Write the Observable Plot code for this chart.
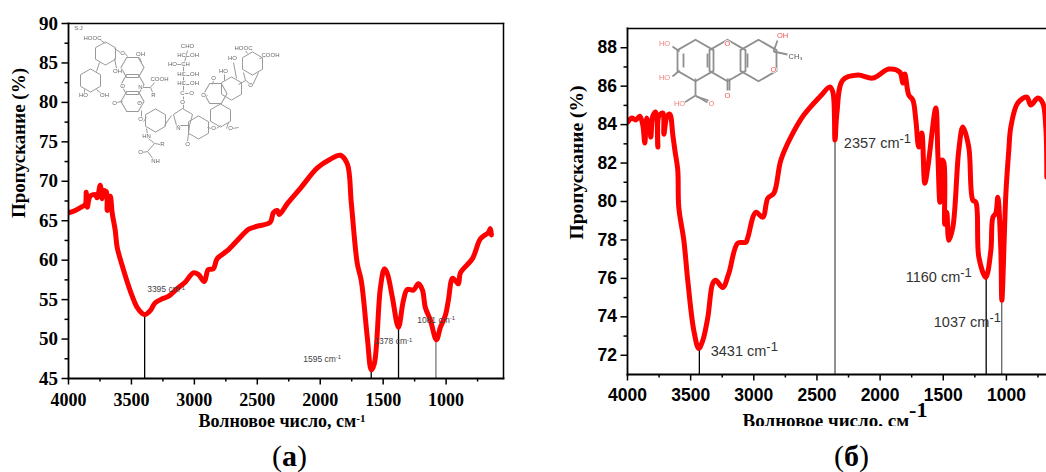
<!DOCTYPE html>
<html><head><meta charset="utf-8">
<script src="https://cdn.jsdelivr.net/npm/d3@7"></script>
<script src="https://cdn.jsdelivr.net/npm/@observablehq/plot@0.6"></script>
<style>
html,body{margin:0;padding:0;background:#fff;overflow:hidden}
#page{position:relative;width:1046px;height:472px;overflow:hidden;background:#fff}
#page svg{position:absolute;background:transparent;max-width:none}
.cap{position:absolute;font-family:"Liberation Serif",serif;font-size:30px;color:#000;white-space:nowrap;line-height:30px}
</style></head><body><div id="page"></div>
<script>
// ---------- Panel (a) ----------
const waveA=[4000,3947,3891,3867,3859,3851,3828,3788,3772,3748,3732,3724,3700,3692,3668,3653,3629,3613,3573,3510,3454,3414,3390,3351,3311,3255,3207,3136,3073,3009,2969,2921,2890,2850,2818,2738,2635,2571,2500,2397,2373,2341,2325,2260,2158,2023,1920,1840,1785,1753,1706,1674,1626,1594,1570,1522,1490,1467,1427,1379,1339,1308,1260,1220,1188,1165,1125,1077,1045,1006,982,950,926,902,886,791,727,664,648,640];
const transA=[66.0,66.3,66.8,67.05,68.6,66.7,68.1,68.3,67.9,69.5,67.8,68.8,68.7,66.3,68.1,66.0,63.8,61.6,59.3,56.15,54.0,53.24,53.1,53.6,54.6,55.1,55.4,56.4,57.2,58.4,58.2,57.3,58.8,58.9,60.2,61.2,62.9,63.9,64.3,64.8,66.0,66.3,65.8,67.2,69.1,71.7,72.8,73.3,72.2,67.2,59.6,57.4,50.2,46.1,46.9,56.5,58.9,58.3,55.3,51.5,54.9,56.3,56.2,57.0,56.2,54.0,52.4,49.9,51.5,53.0,54.9,57.7,57.4,57.0,58.4,60.2,62.7,63.5,64.0,63.2];
const peakWaveA=[3395,1595,1378,1081];
const peakTransA=[53.1,46.1,51.5,49.9];
const peakShadeA=["#000","#000","#000","#777"];
const labelTextA=["3395 cm-1","1595 cm-1","1378 cm-1","1081 cm-1"];
const labelWaveA=[3375,2135,1570,1230];
const labelTransA=[56.3,47.5,49.7,52.4];
const yTicksA=[45,50,55,60,65,70,75,80,85,90];
const yMinorA=[47.5,52.5,57.5,62.5,67.5,72.5,77.5,82.5,87.5];

// ---------- Panel (б) ----------
const waveB=[3998,3966,3934,3903,3879,3863,3847,3823,3815,3800,3776,3760,3752,3720,3712,3689,3665,3641,3625,3602,3594,3554,3523,3475,3436,3404,3364,3325,3301,3246,3198,3127,3063,3047,2984,2929,2889,2841,2786,2707,2604,2471,2398,2374,2357,2342,2295,2176,2058,1931,1844,1820,1804,1773,1741,1717,1694,1670,1646,1622,1559,1543,1527,1511,1496,1488,1472,1456,1424,1377,1345,1298,1266,1242,1218,1163,1123,1107,1084,1068,1044,1036,1004,981,965,910,838,807,751,712,688,680];
const transB=[84.13,84.34,84.24,84.44,83.98,83.04,84.34,83.82,83.35,84.44,84.65,82.83,84.44,84.6,83.5,84.39,84.55,83.45,82.67,81.63,79.7,77.98,75.9,73.29,72.35,72.77,73.97,75.74,75.9,75.53,76.26,77.83,77.88,78.14,79.44,79.18,80.17,80.43,82.15,83.35,84.5,85.49,85.96,85.7,83.2,84.6,86.32,86.58,86.42,86.89,86.73,86.16,86.63,85.54,85.28,84.24,82.83,83.56,80.95,81.79,84.86,82.52,79.96,82.15,82.05,78.82,79.44,77.98,78.66,82.67,83.87,82.83,80.07,79.96,77.1,76.05,77.46,79.18,79.39,80.22,77.46,74.86,80.43,82.67,83.87,85.12,85.43,85.02,85.38,85.12,83.87,81.27];
const peakWaveB=[3431,2357,1160,1037];
const peakTransB=[72.35,83.2,76.05,74.86];
const peakShadeB=["#000","#555","#000","#666"];
const labelTextB=["3431 cm-1","2357 cm-1","1160 cm-1","1037 cm-1"];
const labelWaveB=[3341,2287,1797,1575];
const labelTransB=[72.2,83.0,76.05,73.7];
const yTicksB=[72,74,76,78,80,82,84,86,88];
const yMinorB=[73,75,77,79,81,83,85,87];

const xTicks=[4000,3500,3000,2500,2000,1500,1000];
const xMinor=[3750,3250,2750,2250,1750,1250,750];
const yTitle="Пропускание (%)";
const xTitle="Волновое число, см-1";

// ---------- Molecule sketches ----------
const ringsA=[[105,53,0],[90,80,0],[132,67,30],[132,84,30],[132,101,30],[155,120,0],[198,127,0],[215,93,30],[220,115,0],[231,88,0],[252,63,0]];
const bondsA=[[99,62,96,71],[99,39,105,43],[114,48,120,52],[124,52,127,56],[141,62,139,57],[114,58,116,68],[84,89,84,94],[96,89,102,94],[141,87,150,87],[150,87,154,82],[150,87,153,94],[122,101,116,102],[142,102,137,102],[141,110,141,117],[143,121,146,117],[164,125,171,115],[182,108,192,114],[192,114,189,125],[189,125,176,125],[176,125,173,114],[173,114,182,108],[189,125,187,141],[146,128,147,134],[148,138,154,143],[154,143,160,144],[154,143,147,151],[142,152,147,151],[147,151,153,159],[183,96,183,108],[183,66,183,91],[187,50,183,66],[183,56,189,56],[183,75,189,75],[183,84,189,84],[176,64,181,64],[184,93,188,93],[207,127,211,128],[216,128,220,125],[226,128,228,122],[232,128,238,127],[212,84,213,80],[207,95,205,96],[224,80,224,74],[236,78,233,62],[245,50,247,53],[259,58,266,56],[238,84,245,80],[245,80,243,72],[245,80,252,85],[252,85,258,72]];
const labelsA=[["S.J",78,28],["HOOC",92,38],["OH",140,54],["O",122,53],["OH",117,71],["HO",83,95],["OH",104,95],["COOH",159,79],["N",140,87],["O",122,86],["R",153,95],["O",114,103],["O",139,103],["O",140,119],["HN",146,136],["R",162,144],["O",140,152],["NH",155,161],["CHO",187,46],["HC",181,55],["OH",194,55],["HO",172,64],["CH",185,64],["HC",181,74],["OH",194,74],["HC",181,83],["OH",194,83],["C",182,93],["O",191,93],["O",182,102],["N",178,128],["O",187,144],["O",213,128],["O",213,78],["O",203,95],["HO",223,71],["HO",232,58],["HOOC",243,48],["COOH",270,55],["O",250,85],["O",230,128]];
const ringsB=[[695,60],[727,60],[758,60]];
const bondsB=[[679,51,672,46],[679,70,672,76],[695,78,695,95],[695,95,684,102],[695,95,707,102],[696,96,708,100],[727,78,727,90],[729,78,729,90],[773,51,777,40],[773,51,787,54],[683,53,683,67],[707,53,707,67],[747,53,747,67]];
const labelsB=[["HO",664,43,"#f08080"],["HO",664,77,"#f08080"],["HO",679,103,"#f08080"],["O",711,103,"#f07070"],["O",727,95,"#f05050"],["O",727,43,"#f05050"],["O",773,69,"#f05050"],["OH",782,35,"#f05050"],["CH₃",795,56,"#555"]];

function superscript(svg,labelSup,titleSup){
  d3.select(svg).selectAll("text").each(function(){
    const t=this.textContent;
    const m=/(cm|см)-1$/.exec(t);
    if(m){
      const el=d3.select(this);
      el.text(t.slice(0,-2));
      el.append("tspan").attr("dy","-0.42em").attr("font-size",m[1]==="cm"?labelSup:titleSup).text("-1");
    }
  });
}

function panel(o){
  const idx=d3.range(o.wave.length), peaks=d3.range(o.peakWave.length), labs=d3.range(o.labelText.length);
  const bottom=o.yDomain[0];
  const svg=Plot.plot({
    width:o.width,height:o.height,
    marginLeft:o.ml,marginTop:o.mt,marginRight:o.mr,marginBottom:o.mb,
    x:{domain:o.xDomain,axis:null},y:{domain:o.yDomain,axis:null},
    style:{background:"transparent",overflow:"hidden"},
    marks:[
      Plot.ruleX(peaks,{x:i=>o.peakWave[i],y1:bottom,y2:i=>o.peakTrans[i],stroke:i=>o.peakShade[i],strokeWidth:1.3}),
      Plot.line(idx,{x:i=>o.wave[i],y:i=>o.trans[i],stroke:"#ff0000",strokeWidth:5,curve:"catmull-rom",strokeLinejoin:"round",strokeLinecap:"round",clip:true}),
      Plot.axisX({ticks:xMinor,tickSize:3.5,tickFormat:()=>"",strokeWidth:1.5,stroke:"#000",label:null}),
      Plot.axisX({ticks:xTicks,tickSize:6.5,tickPadding:o.tickPadX,tickFormat:"d",fontSize:o.tickX,fontFamily:o.font,fontWeight:"bold",stroke:"#000",strokeWidth:1.5,fill:"#000",label:null}),
      Plot.axisY({ticks:o.yMinor,tickSize:3.5,tickFormat:()=>"",strokeWidth:1.5,stroke:"#000",label:null}),
      Plot.axisY({ticks:o.yTicks,tickSize:6.5,tickPadding:4,tickFormat:"d",fontSize:o.tickY,fontFamily:o.font,fontWeight:"bold",stroke:"#000",strokeWidth:1.5,fill:"#000",label:null}),
      Plot.frame({anchor:"top",stroke:"#000",strokeWidth:1.5}),
      Plot.frame({anchor:"left",stroke:"#000",strokeWidth:1.8}),
      Plot.frame({anchor:"bottom",stroke:"#000",strokeWidth:1.8}),
      ...(o.rightLine?[Plot.frame({anchor:"right",stroke:"#000",strokeWidth:1.5})]:[]),
      Plot.text(labs,{x:i=>o.labelWave[i],y:i=>o.labelTrans[i],text:i=>o.labelText[i],textAnchor:"start",fontSize:o.labelSize,fontFamily:"Liberation Sans",fill:o.labelFill}),
      Plot.text([xTitle],{text:d=>d,frameAnchor:"bottom",dx:o.xtDx,dy:o.xtDy,textAnchor:"middle",fontFamily:"Liberation Serif",fontWeight:"bold",fontSize:o.xtSize,fill:"#000"}),
      Plot.text([yTitle],{text:d=>d,frameAnchor:"left",dx:o.ytDx,dy:o.ytDy,rotate:-90,textAnchor:"middle",fontFamily:"Liberation Serif",fontWeight:"bold",fontSize:o.ytSize,fill:"#000"})
    ]
  });
  superscript(svg,o.labelSup,o.titleSup);
  svg.style.left=o.left+"px";svg.style.top="0px";
  return svg;
}

function molecule(o){
  const [x0,x1]=o.xDomain,[y0,y1]=o.yDomain;
  const r=o.rings.map(d=>({x:d[0],y:d[1],rot:d[2]||0}));
  const svg=Plot.plot({
    width:x1-x0,height:y1-y0,margin:0,
    x:{domain:o.xDomain,range:[0,x1-x0],axis:null},
    y:{domain:o.yDomain,range:[0,y1-y0],axis:null},
    style:{background:"transparent",filter:o.blur},
    marks:[
      Plot.dot(r,{x:"x",y:"y",r:o.r,symbol:"hexagon",rotate:"rot",stroke:o.stroke,strokeWidth:o.sw,fill:"none"}),
      Plot.link(o.bonds,{x1:d=>d[0],y1:d=>d[1],x2:d=>d[2],y2:d=>d[3],stroke:o.stroke,strokeWidth:o.sw}),
      Plot.text(o.labels,{x:d=>d[1],y:d=>d[2],text:d=>d[0],fontSize:o.fs,fontFamily:"Liberation Sans",fill:d=>d[3]||o.labelFill,stroke:"#fff",strokeWidth:1.5,paintOrder:"stroke"})
    ]
  });
  svg.style.left=x0+"px";svg.style.top=y0+"px";
  return svg;
}

const page=document.getElementById("page");
page.append(panel({
  wave:waveA,trans:transA,peakWave:peakWaveA,peakTrans:peakTransA,peakShade:peakShadeA,
  labelText:labelTextA,labelWave:labelWaveA,labelTrans:labelTransA,labelSize:8.5,labelFill:"#444",
  yTicks:yTicksA,yMinor:yMinorA,xDomain:[4000,544],yDomain:[45,90],
  width:520,height:440,ml:68,mt:23,mr:17,mb:62,left:0,rightLine:true,
  font:"Liberation Serif",tickX:18,tickY:19,tickPadX:8,
  xtDx:-4,xtDy:48,xtSize:18,ytDx:-50,ytDy:-58,ytSize:19,labelSup:"6px",titleSup:"11px"
}));
page.append(panel({
  wave:waveB,trans:transB,peakWave:peakWaveB,peakTrans:peakTransB,peakShade:peakShadeB,
  labelText:labelTextB,labelWave:labelWaveB,labelTrans:labelTransB,labelSize:14.5,labelFill:"#333",
  yTicks:yTicksB,yMinor:yMinorB,xDomain:[4000,635],yDomain:[71,89],
  width:512,height:426,ml:87,mt:28,mr:0,mb:52,left:540,rightLine:false,
  font:"Liberation Sans",tickX:17.5,tickY:17.5,tickPadX:8,
  xtDx:-5,xtDy:52,xtSize:19,ytDx:-51,ytDy:-39,ytSize:19.5,labelSup:"13px",titleSup:"22px"
}));
page.append(molecule({rings:ringsA,bonds:bondsA,labels:labelsA,xDomain:[70,310],yDomain:[20,170],r:10,stroke:"#999",sw:1,fs:6,labelFill:"#666",blur:"blur(0.35px)"}));
page.append(molecule({rings:ringsB,bonds:bondsB,labels:labelsB,xDomain:[650,810],yDomain:[25,115],r:18,stroke:"#909090",sw:1.8,fs:7.5,labelFill:"#f08080",blur:"blur(0.3px)"}));

function caption(letter,left){
  const c=document.createElement("div");c.className="cap";c.style.left=left+"px";c.style.top="441px";
  c.append("(");const b=document.createElement("b");b.textContent=letter;c.append(b);c.append(")");
  page.append(c);
}
caption("а",272);caption("б",834);
</script></body></html>
